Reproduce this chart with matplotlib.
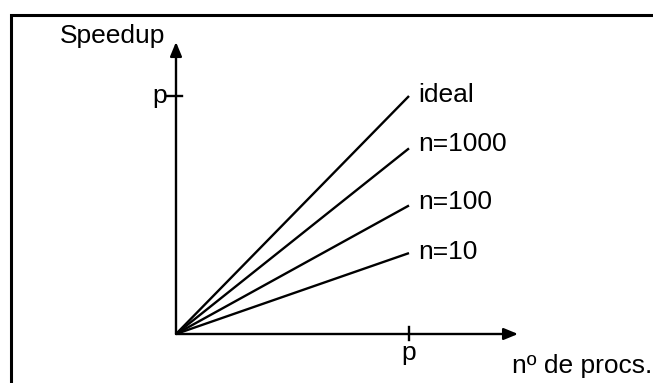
import matplotlib
matplotlib.use("Agg")
import matplotlib.pyplot as plt
from matplotlib.patches import Rectangle

# speedup at n_procs = p (p = 1 in axis units)
series = ["ideal", "n=1000", "n=100", "n=10"]
speedup_at_p = [1.0, 0.78, 0.54, 0.34]
label_dy = [0.004, 0.018, 0.015, 0.005]

W, H = 653, 383
plt.rcParams['font.family'] = ['Liberation Sans', 'DejaVu Sans']
FS = 19

fig = plt.figure(figsize=(W / 100, H / 100), dpi=100)

# frame (only the left and top edges are inside the picture)
fig.patches.append(Rectangle((11 / W, -0.2), 1.2, (H - 15) / H + 0.2,
                             transform=fig.transFigure, fill=False,
                             lw=2.2, ec='black'))

ox, oy = 176, 334
sx, sy = 233, 238
xmax, ymax = 1.5, 1.3
ax = fig.add_axes([ox / W, (H - oy) / H, xmax * sx / W, ymax * sy / H])
ax.set_xlim(0, xmax)
ax.set_ylim(0, ymax)
ax.axis('off')

LW = 1.7
arrow = dict(arrowstyle='-|>,head_length=0.85,head_width=0.35', lw=LW,
             color='black', shrinkA=0, shrinkB=0)
ax.annotate('', xy=(0, 1.227), xytext=(0, 0), arrowprops=arrow,
            annotation_clip=False)
ax.annotate('', xy=(1.468, 0), xytext=(0, 0), arrowprops=arrow,
            annotation_clip=False)

# ticks at p
ax.plot([-0.039, 0.026], [1, 1], color='black', lw=LW, clip_on=False)
ax.plot([1, 1], [-0.027, 0.029], color='black', lw=LW, clip_on=False)

for name, s, dy in zip(series, speedup_at_p, label_dy):
    ax.plot([0, 1], [0, s], color='black', lw=LW, clip_on=False,
            solid_capstyle='butt')
    ax.text(1.04, s + dy, name, fontsize=FS, ha='left', va='center')

ax.text(-0.047, 1.223, 'Speedup', fontsize=FS, ha='right', va='baseline')
ax.text(-0.04, 0.97, 'p', fontsize=FS, ha='right', va='baseline')
ax.text(1.0, -0.109, 'p', fontsize=FS, ha='center', va='baseline')
ax.text(1.442, -0.164, 'nº de procs.', fontsize=FS, ha='left', va='baseline')

fig.savefig('out.png', dpi=100)
